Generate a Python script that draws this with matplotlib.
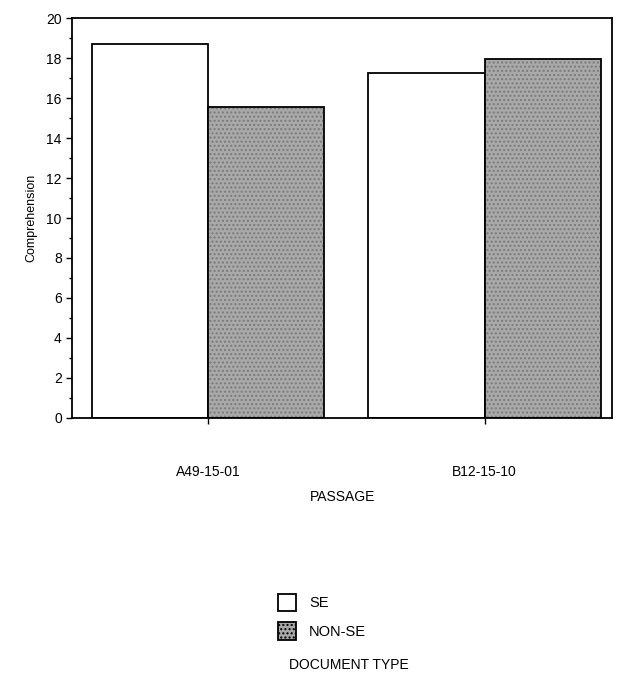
import matplotlib
matplotlib.use("Agg")
import matplotlib.pyplot as plt
import numpy as np
from matplotlib.patches import Patch

plt.rcParams['font.family'] = ['Liberation Sans', 'DejaVu Sans']

# values
passages = ['A49-15-01', 'B12-15-10']
se_scores = [18.7, 17.25]
non_se_scores = [15.55, 17.95]
series_names = ['SE', 'NON-SE']

fig = plt.figure(figsize=(6.17, 6.75), dpi=100)
ax = fig.add_axes([0.117, 0.381, 0.875, 0.592])

x = np.arange(len(passages))
w = 0.42
gray = '#a9a9a9'

ax.bar(x - w / 2, se_scores, w, color='white', edgecolor='black', linewidth=1.3)
# stippled gray fill, then a black outline on top
ax.bar(x + w / 2, non_se_scores, w, color=gray, edgecolor='#7a7a7a', hatch='....', linewidth=0)
ax.bar(x + w / 2, non_se_scores, w, fill=False, edgecolor='black', linewidth=1.3)

ax.set_xlim(-0.49, 1.46)
ax.set_ylim(0, 20)
ax.set_yticks(np.arange(0, 21, 2))
ax.set_yticks(np.arange(1, 20, 2), minor=True)
ax.set_xticks(x)
ax.set_xticklabels(passages, fontsize=10)
ax.tick_params(axis='x', length=4, width=1, pad=30)
ax.tick_params(axis='y', which='major', length=4, width=1, labelsize=10)
ax.tick_params(axis='y', which='minor', length=2, width=1)
for s in ax.spines.values():
    s.set_linewidth(1.3)

ax.set_ylabel('Comprehension', fontsize=9, labelpad=6)
ax.set_xlabel('PASSAGE', fontsize=10, labelpad=8)

handles = [Patch(facecolor='white', edgecolor='black', linewidth=1.3),
           Patch(facecolor=gray, edgecolor='black', linewidth=1.3, hatch='....')]
fig.legend(handles, series_names, loc='upper left', bbox_to_anchor=(0.43, 0.14),
           frameon=False, fontsize=10.5, handlelength=1.2, handleheight=1.5,
           handletextpad=0.9, labelspacing=0.75)
fig.text(0.566, 0.015, 'DOCUMENT TYPE', ha='center', va='center', fontsize=10)

fig.savefig('out.png', dpi=100)
